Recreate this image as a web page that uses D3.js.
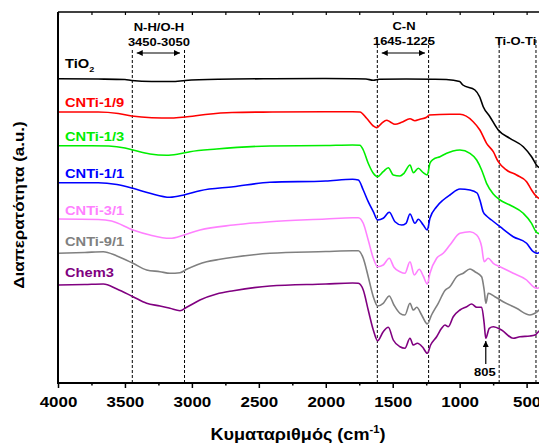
<!DOCTYPE html>
<html>
<head>
<meta charset="utf-8">
<script src="https://cdn.jsdelivr.net/npm/d3@7"></script>
<style>
  body { margin: 0; background: #fff; }
  text { font-family: "Liberation Sans", Arial, sans-serif; font-weight: bold; }
</style>
</head>
<body>
<div id="chart"></div>
<script>
// FTIR spectra, offset-stacked (wavenumber cm-1, intensity a.u.)
const tio2 = [[4000,30.43],[3700,30.4],[3500,30.35],[3450,30.25],[3300,30.15],[3150,30.15],[3050,30.25],[2800,30.37],[2400,30.43],[2000,30.45],[1800,30.43],[1700,30.4],[1645,30.27],[1600,30.37],[1400,30.4],[1200,30.38],[1100,30.35],[1000,30.15],[976,29.8],[886,29.3],[850,28.6],[824,27.63],[774,26.63],[712,25.3],[625,24.47],[525,23.63],[463,22.63],[421,21.7],[400,21.5]];
const cnti19 = [[4000,27.1],[3700,27.1],[3550,26.95],[3450,26.7],[3300,26.53],[3150,26.5],[3050,26.6],[2900,26.85],[2700,27.05],[2400,27.1],[2000,27.13],[1800,27.13],[1745,27.1],[1695,26.47],[1645,25.7],[1620,25.53],[1583,25.97],[1545,26.27],[1521,26.13],[1483,25.87],[1433,26.07],[1371,26.43],[1334,26.23],[1297,26.37],[1247,26.57],[1227,26.8],[1073,26.87],[998,26.87],[899,26.13],[849,25.3],[799,23.97],[749,23.13],[712,22.13],[650,21.3],[575,20.8],[500,20.13],[463,19.3],[425,18.63],[400,18.4]];
const cnti13 = [[4000,23.73],[3750,23.73],[3620,23.7],[3500,23.5],[3440,23.3],[3313,22.9],[3188,22.77],[3100,22.9],[3014,23.13],[2815,23.4],[2417,23.7],[2000,23.75],[1800,23.8],[1745,23.77],[1720,23.3],[1683,21.97],[1645,20.97],[1613,20.63],[1571,21.13],[1533,21.53],[1496,20.8],[1446,20.7],[1416,20.97],[1371,21.8],[1346,21.03],[1309,21.47],[1272,21.03],[1242,20.8],[1222,21.97],[1197,22.37],[1147,22.63],[1097,22.97],[1050,23.2],[998,23.3],[923,22.97],[873,22.3],[836,21.3],[799,19.97],[749,18.9],[699,18.3],[625,17.8],[525,16.97],[463,15.97],[430,15.13],[400,14.9]];
const cnti11 = [[4000,20.03],[3700,20.03],[3560,19.85],[3440,19.47],[3313,18.97],[3164,18.57],[3059,18.8],[2940,19.23],[2690,19.63],[2417,20.07],[2000,20.2],[1800,20.37],[1757,20.3],[1720,19.3],[1683,18.13],[1645,17.13],[1613,16.3],[1571,16.47],[1526,17.07],[1483,16.13],[1433,15.8],[1401,15.97],[1371,16.9],[1334,15.97],[1309,16.37],[1272,15.8],[1242,15.3],[1222,16.47],[1172,17.63],[1123,18.3],[1073,18.8],[998,19.4],[923,19.3],[870,19.0],[849,18.3],[824,17.1],[799,16.7],[762,16.3],[699,15.63],[600,14.63],[500,13.97],[450,13.13],[425,12.97],[400,13.1]];
const cnti31 = [[4000,16.4],[3700,16.35],[3600,16.2],[3440,15.3],[3313,14.8],[3164,14.47],[3059,14.8],[2940,15.3],[2690,15.8],[2417,16.13],[2000,16.4],[1800,16.53],[1757,16.53],[1720,15.97],[1683,14.3],[1645,12.47],[1613,11.63],[1571,11.8],[1526,12.47],[1491,11.57],[1446,11.13],[1409,10.97],[1371,12.13],[1339,10.8],[1302,11.37],[1272,10.7],[1242,9.9],[1222,10.97],[1172,12.47],[1123,12.97],[1073,13.8],[998,14.97],[923,15.13],[873,14.8],[836,13.63],[817,12.13],[787,12.47],[749,11.97],[699,11.63],[600,10.97],[500,10.3],[450,9.63],[425,9.47],[400,9.6]];
const cnti91 = [[4000,12.97],[3800,13.05],[3662,13.13],[3560,12.7],[3440,11.97],[3338,11.3],[3238,11.13],[3164,10.97],[3089,11.03],[3039,11.37],[2890,12.13],[2790,12.37],[2690,12.57],[2417,12.97],[2000,13.15],[1800,13.23],[1757,13.23],[1720,12.47],[1683,10.63],[1645,8.63],[1613,7.7],[1571,7.97],[1526,8.7],[1491,7.8],[1446,6.97],[1409,6.8],[1371,7.97],[1346,7.3],[1321,7.57],[1284,6.8],[1242,5.9],[1210,6.8],[1160,7.97],[1110,9.25],[1073,9.63],[1023,10.63],[973,10.97],[923,11.4],[886,11.13],[836,10.63],[817,9.3],[804,7.97],[787,8.97],[737,8.63],[675,8.13],[575,7.47],[475,6.8],[438,6.97],[412,7.23],[400,7.4]];
const chem3 = [[4000,9.8],[3800,9.85],[3662,9.9],[3560,9.4],[3440,8.63],[3338,7.97],[3238,7.7],[3164,7.47],[3089,7.23],[3039,7.57],[2940,8.3],[2815,8.9],[2690,9.23],[2417,9.7],[2000,9.9],[1800,10.0],[1757,9.97],[1720,9.3],[1683,7.3],[1645,5.3],[1613,4.23],[1571,5.13],[1533,5.57],[1496,4.3],[1446,3.63],[1409,3.47],[1371,4.47],[1346,3.8],[1316,3.97],[1276,3.57],[1242,2.97],[1217,3.8],[1172,4.63],[1135,5.47],[1110,5.8],[1085,5.63],[1048,6.63],[998,7.3],[948,7.63],[911,7.9],[873,7.57],[836,7.57],[817,5.97],[805,4.47],[779,5.47],[749,5.63],[687,5.3],[600,4.47],[550,4.63],[475,4.7],[438,4.8],[412,5.13],[400,5.3]];

const seriesNames = ["TiO2", "CNTi-1/9", "CNTi-1/3", "CNTi-1/1", "CNTi-3/1", "CNTi-9/1", "Chem3"];
const seriesData = [tio2, cnti19, cnti13, cnti11, cnti31, cnti91, chem3];
const seriesColors = ["#000000", "#ff0000", "#00ee00", "#0000ff", "#ff80ff", "#808080", "#800080"];
const labelValues = [31.5, 27.57, 24.2, 20.47, 16.8, 13.7, 10.57];

const xTicks = [4000, 3500, 3000, 2500, 2000, 1500, 1000, 500];
const xMinorTicks = [3750, 3250, 2750, 2250, 1750, 1250, 750];
const bandLines = [3445, 3055, 1615, 1232, 705, 430];
const bandArrows = [[3412, 3089], [1582, 1259]];

const W = 539, H = 443;
const plot = { left: 58, right: 540, top: 12, bottom: 383 };
const sx = 1.13; // horizontal text stretch

const svg = d3.select("#chart").append("svg")
  .attr("width", W)
  .attr("height", H);

const x = d3.scaleLinear().domain([4000, 400]).range([plot.left, plot.right]);
const y = d3.scaleLinear().domain([0, 37.1]).range([plot.bottom, plot.top]);

svg.append("defs").append("clipPath").attr("id", "clip")
  .append("rect")
  .attr("x", plot.left).attr("y", plot.top)
  .attr("width", plot.right - plot.left).attr("height", plot.bottom - plot.top);

const marker = svg.select("defs").append("marker")
  .attr("id", "head")
  .attr("viewBox", "0 0 10 10")
  .attr("refX", 10).attr("refY", 5)
  .attr("markerWidth", 7).attr("markerHeight", 6)
  .attr("markerUnits", "userSpaceOnUse")
  .attr("orient", "auto-start-reverse");
marker.append("path").attr("d", "M0,0L10,5L0,10Z").attr("fill", "#000");

function addText(px, py, str, size, color, anchor) {
  return svg.append("text")
    .attr("transform", "translate(" + px + "," + py + ") scale(" + sx + ",1)")
    .attr("text-anchor", anchor || "start")
    .style("font-size", size + "px")
    .attr("fill", color || "#000")
    .text(str);
}

// dashed band markers
svg.selectAll(".band")
  .data(bandLines)
  .enter().append("line")
  .attr("class", "band")
  .attr("x1", d => x(d)).attr("x2", d => x(d))
  .attr("y1", (d, i) => i < 2 ? 50 : 40)
  .attr("y2", plot.bottom)
  .attr("stroke", "#000")
  .attr("stroke-width", 1)
  .attr("stroke-dasharray", "3,2");

// spectra
const line = d3.line()
  .x(d => x(d[0]))
  .y(d => y(d[1]))
  .curve(d3.curveMonotoneX);

svg.append("g").attr("clip-path", "url(#clip)")
  .selectAll("path")
  .data(seriesData)
  .enter().append("path")
  .attr("d", line)
  .attr("fill", "none")
  .attr("stroke", (d, i) => seriesColors[i])
  .attr("stroke-width", 1.6);

// series labels
seriesNames.forEach((name, i) => {
  const t = addText(x(3948), y(labelValues[i]), "", 13, seriesColors[i]);
  if (name === "TiO2") {
    t.append("tspan").text("TiO");
    t.append("tspan").attr("dy", 4).style("font-size", "8px").text("2");
  } else {
    t.text(name);
  }
});

// axes
const bottom = svg.append("g")
  .attr("transform", "translate(0," + plot.bottom + ")");
bottom.append("g")
  .call(d3.axisBottom(x).tickValues(xMinorTicks).tickSize(2.5).tickFormat(""))
  .call(g => g.select(".domain").remove())
  .selectAll("line").attr("stroke-width", 1.5);
const major = bottom.append("g")
  .call(d3.axisBottom(x).tickValues(xTicks).tickSize(5).tickPadding(8).tickFormat(d3.format("d")));
major.select(".domain").remove();
major.selectAll("line").attr("stroke-width", 1.5);
major.selectAll("text")
  .attr("transform", "scale(" + sx + ",1)")
  .style("font-size", "15px")
  .style("font-family", "'Liberation Sans', Arial, sans-serif")
  .style("font-weight", "bold")
  .attr("fill", "#000");

svg.append("g")
  .attr("transform", "translate(0," + plot.top + ")")
  .call(d3.axisBottom(x).tickValues(xTicks.concat(xMinorTicks)).tickSize(3).tickFormat(""))
  .call(g => g.select(".domain").remove())
  .selectAll("line").attr("stroke-width", 1.2);

svg.append("line")
  .attr("x1", plot.left).attr("x2", plot.right)
  .attr("y1", plot.bottom).attr("y2", plot.bottom)
  .attr("stroke", "#000").attr("stroke-width", 2);
svg.append("line")
  .attr("x1", plot.left).attr("x2", plot.right)
  .attr("y1", plot.top).attr("y2", plot.top)
  .attr("stroke", "#000").attr("stroke-width", 1.6);
svg.append("line")
  .attr("x1", plot.left).attr("x2", plot.left)
  .attr("y1", plot.top).attr("y2", plot.bottom + 1)
  .attr("stroke", "#000").attr("stroke-width", 2);

// band annotations
addText(x(3246), 31, "N-H/O-H", 11.5, "#000", "middle");
addText(x(3246), 45.5, "3450-3050", 11.5, "#000", "middle");
addText(x(1416), 29.5, "C-N", 11.5, "#000", "middle");
addText(x(1416), 45, "1645-1225", 11.5, "#000", "middle");
addText(x(737), 45, "Ti-O-Ti", 11.5, "#000", "start");

svg.selectAll(".arrow")
  .data(bandArrows)
  .enter().append("line")
  .attr("class", "arrow")
  .attr("x1", d => x(d[0])).attr("x2", d => x(d[1]))
  .attr("y1", 53).attr("y2", 53)
  .attr("stroke", "#000").attr("stroke-width", 1.2)
  .attr("marker-start", "url(#head)")
  .attr("marker-end", "url(#head)");

// 805 peak
svg.append("line")
  .attr("x1", x(805)).attr("x2", x(805))
  .attr("y1", 364).attr("y2", 341)
  .attr("stroke", "#000").attr("stroke-width", 1.2)
  .attr("marker-end", "url(#head)");
addText(x(812), 376, "805", 11.5, "#000", "middle");

// axis titles
const xt = addText(298, 440, "Κυματαριθμός (cm", 16, "#000", "middle");
xt.append("tspan").attr("dy", -7).style("font-size", "10px").text("-1");
xt.append("tspan").attr("dy", 7).text(")");

svg.append("text")
  .attr("transform", "translate(24,205) rotate(-90) scale(" + sx + ",1)")
  .attr("text-anchor", "middle")
  .style("font-size", "15px")
  .text("Διαπερατότητα (a.u.)");
</script>
</body>
</html>
